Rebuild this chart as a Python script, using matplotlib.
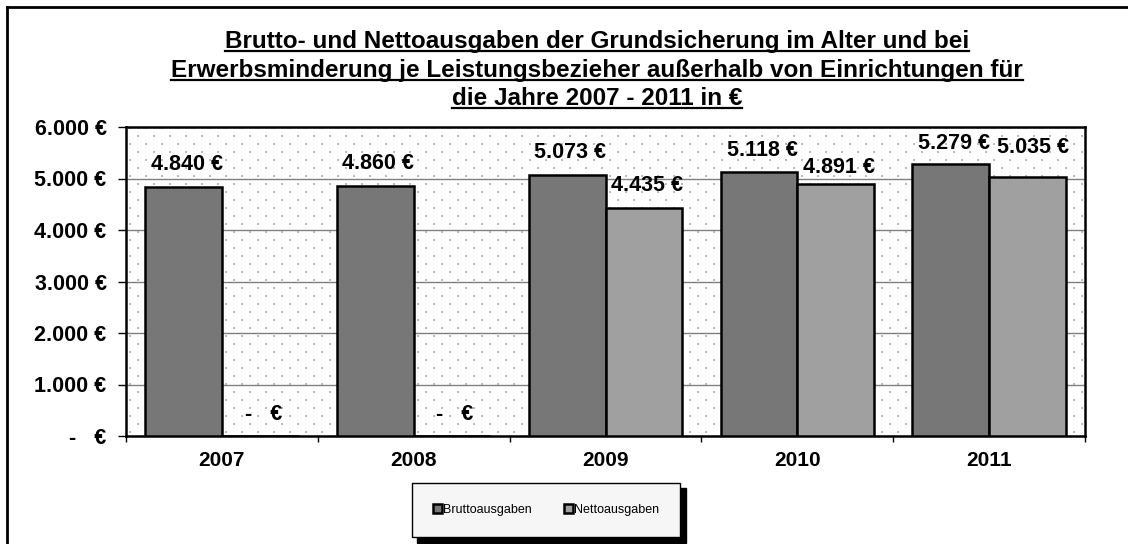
# Brutto- und Nettoausgaben Grundsicherung je Leistungsbezieher 2007 - 2011

import numpy as np
import matplotlib
matplotlib.use("Agg")
import matplotlib.pyplot as plt
from matplotlib.lines import Line2D

plt.rcParams['font.family'] = ['Liberation Sans', 'DejaVu Sans']

# ----------------------------
# 1. Data
# ----------------------------
years = ['2007', '2008', '2009', '2010', '2011']
brutto = [4840, 4860, 5073, 5118, 5279]
netto = [0, 0, 4435, 4891, 5035]
series_names = ['Bruttoausgaben', 'Nettoausgaben']
y_ticks = [0, 1000, 2000, 3000, 4000, 5000, 6000]
title_lines = [
    'Brutto- und Nettoausgaben der Grundsicherung im Alter und bei',
    'Erwerbsminderung je Leistungsbezieher außerhalb von Einrichtungen für',
    'die Jahre 2007 - 2011 in €',
]


def euro(v):
    # Excel accounting style: zero shown as "-   €"
    if v == 0:
        return '-   €'
    return f'{v:,.0f}'.replace(',', '.') + ' €'


# ----------------------------
# 2. Figure / axes
# ----------------------------
W, H = 1128, 544
fig = plt.figure(figsize=(W / 100, H / 100), dpi=100)
fig.patch.set_facecolor('white')
ax_l, ax_r, ax_t, ax_b = 126, 1085, 127, 436
ax = fig.add_axes([ax_l / W, 1 - ax_b / H, (ax_r - ax_l) / W, (ax_b - ax_t) / H])

# dotted background texture
aw, ah = ax_r - ax_l, ax_b - ax_t
pts_x, pts_y = [], []
for i, py in enumerate(np.arange(4, ah, 8)):
    off = 4 if i % 2 == 0 else 12
    for px in np.arange(off, aw, 16):
        pts_x.append(px / aw)
        pts_y.append(py / ah)
ax.scatter(pts_x, pts_y, s=1.6, marker='s', color='#bcbcbc', linewidths=0,
           transform=ax.transAxes, zorder=0.5)

# ----------------------------
# 3. Bars
# ----------------------------
x = np.arange(len(years))
w = 0.4
b1 = ax.bar(x - w / 2, brutto, w, color='#777777', edgecolor='black',
            linewidth=1.8, zorder=3, label=series_names[0])
b2 = ax.bar(x + w / 2, netto, w, color='#a0a0a0', edgecolor='black',
            linewidth=1.8, zorder=3, label=series_names[1])

# data labels (offset in pixels, a few nudged like in the original)
nudge = {(1, 3): (3, 17), (0, 4): (3, 21), (1, 4): (6, 29)}
for s, (vals, shift) in enumerate([(brutto, -w / 2), (netto, w / 2)]):
    for i, v in enumerate(vals):
        dx, dy = nudge.get((s, i), (3, 22))
        ax.annotate(euro(v), (x[i] + shift, v), xytext=(dx, dy),
                    textcoords='offset pixels', ha='center', va='center',
                    fontsize=15.5, fontweight='bold', zorder=5)

# ----------------------------
# 4. Axes styling
# ----------------------------
ax.set_xlim(-0.5, len(years) - 0.5)
ax.set_ylim(0, 6000)
ax.set_yticks(y_ticks)
ax.set_yticklabels([euro(v) for v in y_ticks], fontsize=15.5, fontweight='bold')
ax.tick_params(axis='y', direction='out', length=6, width=1, pad=8)

ax.set_xticks(np.arange(-0.5, len(years), 1))
ax.set_xticklabels([])
ax.set_xticks(x, minor=True)
ax.set_xticklabels(years, minor=True, fontsize=15, fontweight='bold')
ax.tick_params(axis='x', which='major', direction='out', length=4, width=1)
ax.tick_params(axis='x', which='minor', length=0, pad=11)

ax.yaxis.grid(True, color='#808080', linewidth=1)
ax.set_axisbelow(True)
for sp in ax.spines.values():
    sp.set_linewidth(1.8)
    sp.set_color('black')

# ----------------------------
# 5. Legend
# ----------------------------
fig.legend(handles=[b1, b2], loc='center', bbox_to_anchor=(546 / W, 1 - 510 / H),
           ncol=2, fontsize=9, frameon=True, fancybox=False, edgecolor='black',
           facecolor='#f6f6f6', framealpha=1,
           shadow={'color': 'black', 'alpha': 1, 'ox': 4, 'oy': -4},
           borderpad=1.7, handlelength=0.7, handleheight=0.7,
           handletextpad=0.1, columnspacing=2.6)

# ----------------------------
# 6. Title (underlined) and outer frame
# ----------------------------
title_x = 597 / W
baselines = [48, 77, 105]
texts = []
for line, yb in zip(title_lines, baselines):
    t = fig.text(title_x, 1 - yb / H, line, ha='center', va='baseline',
                 fontsize=17.5, fontweight='bold')
    texts.append(t)

fig.canvas.draw()
renderer = fig.canvas.get_renderer()
for t, yb in zip(texts, baselines):
    bb = t.get_window_extent(renderer)
    y_u = 1 - (yb + 3) / H
    fig.add_artist(Line2D([bb.x0 / W, bb.x1 / W], [y_u, y_u], color='black',
                          linewidth=1.6, transform=fig.transFigure))

fig.add_artist(Line2D([7 / W, 1], [1 - 7 / H, 1 - 7 / H], color='black',
                      linewidth=2, transform=fig.transFigure))
fig.add_artist(Line2D([7 / W, 7 / W], [1 - 7 / H, 0], color='black',
                      linewidth=2, transform=fig.transFigure))

fig.savefig('out.png', dpi=100)
